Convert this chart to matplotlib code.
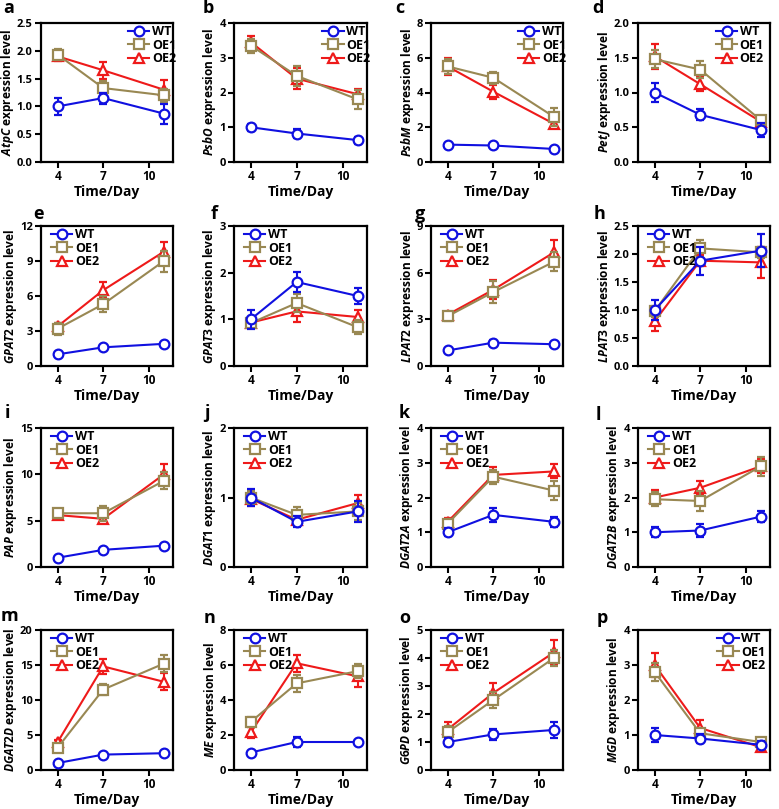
import matplotlib
matplotlib.use('Agg')
import matplotlib.pyplot as plt
import numpy as np
from matplotlib.lines import Line2D

plt.rcParams['font.family'] = ['Open Sans', 'DejaVu Sans']
plt.rcParams['font.weight'] = 'bold'
plt.rcParams['mathtext.fontset'] = 'custom'
plt.rcParams['mathtext.it'] = 'Open Sans:italic:bold'
plt.rcParams['mathtext.rm'] = 'Open Sans:bold'
plt.rcParams['mathtext.bf'] = 'Open Sans:bold'

# ---------------- data ----------------
days = [4, 7, 11]
xticks = [4, 7, 10]
letters = list('abcdefghijklmnop')
genes = ['AtpC', 'PsbO', 'PsbM', 'PetJ', 'GPAT2', 'GPAT3', 'LPAT2', 'LPAT3',
         'PAP', 'DGAT1', 'DGAT2A', 'DGAT2B', 'DGAT2D', 'ME', 'G6PD', 'MGD']
ymax = [2.5, 4, 8, 2.0, 12, 3, 9, 2.5, 15, 2, 4, 4, 20, 8, 5, 4]
ystep = [0.5, 1, 2, 0.5, 3, 1, 3, 0.5, 5, 1, 1, 1, 5, 2, 1, 1]
series = ['WT', 'OE1', 'OE2']

wt_mean = [[1.0, 1.15, 0.87], [1.0, 0.82, 0.63], [1.0, 0.95, 0.75], [1.0, 0.68, 0.46],
           [1.0, 1.6, 1.9], [1.0, 1.8, 1.5], [1.0, 1.5, 1.4], [1.0, 1.88, 2.06],
           [1.0, 1.85, 2.3], [1.0, 0.65, 0.8], [1.0, 1.5, 1.3], [1.0, 1.05, 1.45],
           [1.0, 2.2, 2.4], [1.0, 1.6, 1.6], [1.0, 1.27, 1.43], [1.0, 0.9, 0.72]]
wt_err = [[0.15, 0.1, 0.18], [0.1, 0.13, 0.1], [0.05, 0.05, 0.05], [0.13, 0.08, 0.1],
          [0.1, 0.1, 0.1], [0.2, 0.22, 0.17], [0.1, 0.2, 0.1], [0.18, 0.25, 0.3],
          [0.1, 0.15, 0.15], [0.12, 0.08, 0.15], [0.12, 0.2, 0.15], [0.15, 0.2, 0.15],
          [0.1, 0.2, 0.2], [0.05, 0.3, 0.05], [0.15, 0.2, 0.28], [0.2, 0.12, 0.1]]
oe1_mean = [[1.93, 1.33, 1.2], [3.35, 2.48, 1.8], [5.5, 4.85, 2.6], [1.48, 1.33, 0.6],
            [3.2, 5.3, 9.0], [0.92, 1.35, 0.83], [3.2, 4.75, 6.7], [0.98, 2.1, 2.03],
            [5.8, 5.8, 9.3], [1.0, 0.75, 0.8], [1.25, 2.6, 2.2], [1.95, 1.9, 2.9],
            [3.2, 11.5, 15.2], [2.75, 4.95, 5.65], [1.35, 2.5, 4.0], [2.8, 1.05, 0.8]]
oe1_err = [[0.1, 0.12, 0.12], [0.2, 0.28, 0.27], [0.45, 0.35, 0.5], [0.13, 0.12, 0.05],
           [0.5, 0.7, 0.9], [0.1, 0.2, 0.15], [0.3, 0.7, 0.6], [0.1, 0.15, 0.1],
           [0.5, 0.8, 0.9], [0.1, 0.12, 0.12], [0.12, 0.2, 0.28], [0.2, 0.3, 0.27],
           [0.4, 0.8, 1.2], [0.3, 0.5, 0.4], [0.22, 0.3, 0.3], [0.25, 0.1, 0.1]]
oe2_mean = [[1.9, 1.65, 1.3], [3.45, 2.4, 1.95], [5.5, 4.05, 2.2], [1.52, 1.12, 0.58],
            [3.4, 6.5, 9.8], [0.93, 1.17, 1.05], [3.3, 4.9, 7.3], [0.8, 1.88, 1.85],
            [5.6, 5.2, 10.0], [0.98, 0.68, 0.92], [1.3, 2.65, 2.75], [2.0, 2.28, 2.9],
            [4.0, 14.8, 12.6], [2.15, 6.1, 5.35], [1.45, 2.75, 4.2], [3.0, 1.2, 0.65]]
oe2_err = [[0.08, 0.15, 0.18], [0.18, 0.3, 0.15], [0.5, 0.4, 0.25], [0.18, 0.1, 0.07],
           [0.3, 0.7, 0.8], [0.07, 0.22, 0.15], [0.2, 0.6, 0.8], [0.17, 0.1, 0.28],
           [0.4, 0.4, 1.1], [0.1, 0.08, 0.12], [0.1, 0.22, 0.2], [0.22, 0.2, 0.2],
           [0.3, 1.1, 1.2], [0.3, 0.5, 0.6], [0.25, 0.35, 0.45], [0.35, 0.22, 0.1]]

# ---------------- style / layout ----------------
colors = {'WT': '#1010E0', 'OE1': '#998853', 'OE2': '#EE1A1A'}
markers = {'WT': 'o', 'OE1': 's', 'OE2': '^'}
W, H = 779, 809
col_l = [41, 234, 431, 638]
col_r = [173, 367, 563, 770]
row_t = [23, 226, 428, 630]
row_b = [162, 366, 567, 770]
legend_anchor_x = {0: 1.08, 1: 1.08, 2: 1.08, 3: 1.01, 15: 1.02}
letter_pos = [(9, 8), (208, 8), (400, 8), (598, 8),
              (39, 214), (214, 214), (420, 214), (600, 214),
              (7, 413), (207, 413), (404, 413), (598, 415),
              (9, 616), (210, 618), (405, 618), (602, 618)]

fig = plt.figure(figsize=(W / 100, H / 100), dpi=100)

for i in range(16):
    r, c = divmod(i, 4)
    ax = fig.add_axes([col_l[c] / W, 1 - row_b[r] / H,
                       (col_r[c] - col_l[c]) / W, (row_b[r] - row_t[r]) / H])
    data = {'WT': (wt_mean[i], wt_err[i]),
            'OE1': (oe1_mean[i], oe1_err[i]),
            'OE2': (oe2_mean[i], oe2_err[i])}
    for s, z in zip(['OE2', 'OE1', 'WT'], [3, 4, 5]):
        m, e = data[s]
        ax.errorbar(days, m, yerr=e, color=colors[s], marker=markers[s],
                    markersize=7, markerfacecolor='white', markeredgewidth=1.6,
                    lw=1.5, elinewidth=1.5, capsize=3, capthick=1.5, zorder=z)
    ax.set_xlim(2.9, 11.6)
    ax.set_ylim(0, ymax[i])
    ax.set_xticks(xticks)
    yt = np.arange(0, ymax[i] + ystep[i] / 2, ystep[i])
    ax.set_yticks(yt)
    if ystep[i] < 1:
        ax.set_yticklabels([f'{v:.1f}' for v in yt])
    else:
        ax.set_yticklabels([f'{int(round(v))}' for v in yt])
    ax.tick_params(width=1.5, length=4, labelsize=8, pad=2)
    ax.tick_params(axis='x', labelsize=8.5)
    for sp in ax.spines.values():
        sp.set_linewidth(1.6)
    ax.set_xlabel('Time/Day', fontsize=10, fontweight='bold', labelpad=1)
    ax.set_ylabel(r'$\mathit{' + genes[i] + r'}$ expression level',
                  fontsize=8.6, fontweight='bold', labelpad=0.5)
    handles = [Line2D([], [], color=colors[s], marker=markers[s], markersize=7,
                      markerfacecolor='white', markeredgewidth=1.6, lw=1.5)
               for s in series]
    common = dict(frameon=False, fontsize=9, handlelength=1.7,
                  handletextpad=0.2, labelspacing=0.05, borderpad=0.1)
    if i in legend_anchor_x:
        leg = ax.legend(handles, series, loc='upper right',
                        bbox_to_anchor=(legend_anchor_x[i], 1.04), **common)
    else:
        leg = ax.legend(handles, series, loc='upper left',
                        bbox_to_anchor=(0.02, 1.04), **common)
    for t in leg.get_texts():
        t.set_fontweight('bold')
    lx, ly = letter_pos[i]
    fig.text(lx / W, 1 - ly / H, letters[i], fontsize=13, fontweight='bold',
             ha='center', va='center')

fig.savefig('out.png', dpi=100)
